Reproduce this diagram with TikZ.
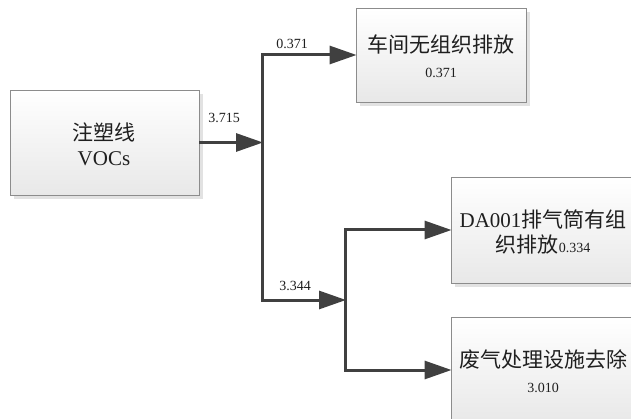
\documentclass[tikz,border=0pt]{standalone}
\usepackage{fontspec}
\setmainfont{Liberation Serif}
\newfontfamily\cjk{Noto Sans CJK SC}
\usetikzlibrary{arrows.meta,shadows}
\definecolor{linec}{HTML}{404040}
\definecolor{boxborder}{HTML}{8C8C8C}
\definecolor{boxbot}{HTML}{E8E8E8}
\definecolor{shadowc}{HTML}{E2E2E2}
\tikzset{
  box/.style={draw=boxborder, line width=0.9pt, top color=white, bottom color=boxbot,
    drop shadow={shadow xshift=4pt, shadow yshift=-4pt, fill=shadowc, opacity=1},
    minimum width=#1, inner sep=0pt},
  boxtext/.style={align=center, text=black!88, font=\fontsize{21}{25}\selectfont},
  flow/.style={draw=linec, line width=3pt},
  flowarrow/.style={flow, -{Triangle[length=27pt,width=18pt]}, shorten >=-1pt},
  num/.style={font=\fontsize{14}{16}\selectfont, text=black!88, inner sep=0pt},
}
\begin{document}
\begin{tikzpicture}[x=1pt,y=-1pt]
\useasboundingbox (0,0) rectangle (631,419);
% boxes
\node[box=189pt, minimum height=105pt] (b1) at (104.5,142.5) {};
\node[box=170pt, minimum height=94pt] (b2) at (441,55) {};
\node[box=184pt, minimum height=106pt] (b3) at (543,230) {};
\node[box=184pt, minimum height=106pt] (b4) at (543,370) {};
% box texts
\node[boxtext] (t1) at (104,144) {{\cjk 注塑线}\\VOCs};
\node[boxtext] (t2) at (441,56) {{\cjk 车间无组织排放}\\{\fontsize{14}{16}\selectfont 0.371}};
\node[boxtext] (t3) at (543,232) {DA001{\cjk 排气筒有组}\\{\cjk 织排放}{\fontsize{14}{16}\selectfont 0.334}};
\node[boxtext] (t4) at (543,371) {{\cjk 废气处理设施去除}\\{\fontsize{14}{16}\selectfont 3.010}};
% junction coordinates
\coordinate (jT) at (262,55);
\coordinate (jM) at (262,142.5);
\coordinate (jB) at (262,300);
\coordinate (kT) at (345,230);
\coordinate (kM) at (345,300);
\coordinate (kB) at (345,370);
% connectors
\draw[flowarrow] (b1.east |- jM) -- (jM);
\draw[flow, line cap=rect] (jT) -- (jB);
\draw[flowarrow] (jT) -- (b2.west |- jT);
\draw[flowarrow] (jB) -- (kM);
\draw[flow, line cap=rect] (kT) -- (kB);
\draw[flowarrow] (kT) -- (b3.west |- kT);
\draw[flowarrow] (kB) -- (b4.west |- kB);
% labels
\node[num] (l1) at (224,118) {3.715};
\node[num] (l2) at (292,44) {0.371};
\node[num] (l3) at (295,286) {3.344};
\end{tikzpicture}
\end{document}
